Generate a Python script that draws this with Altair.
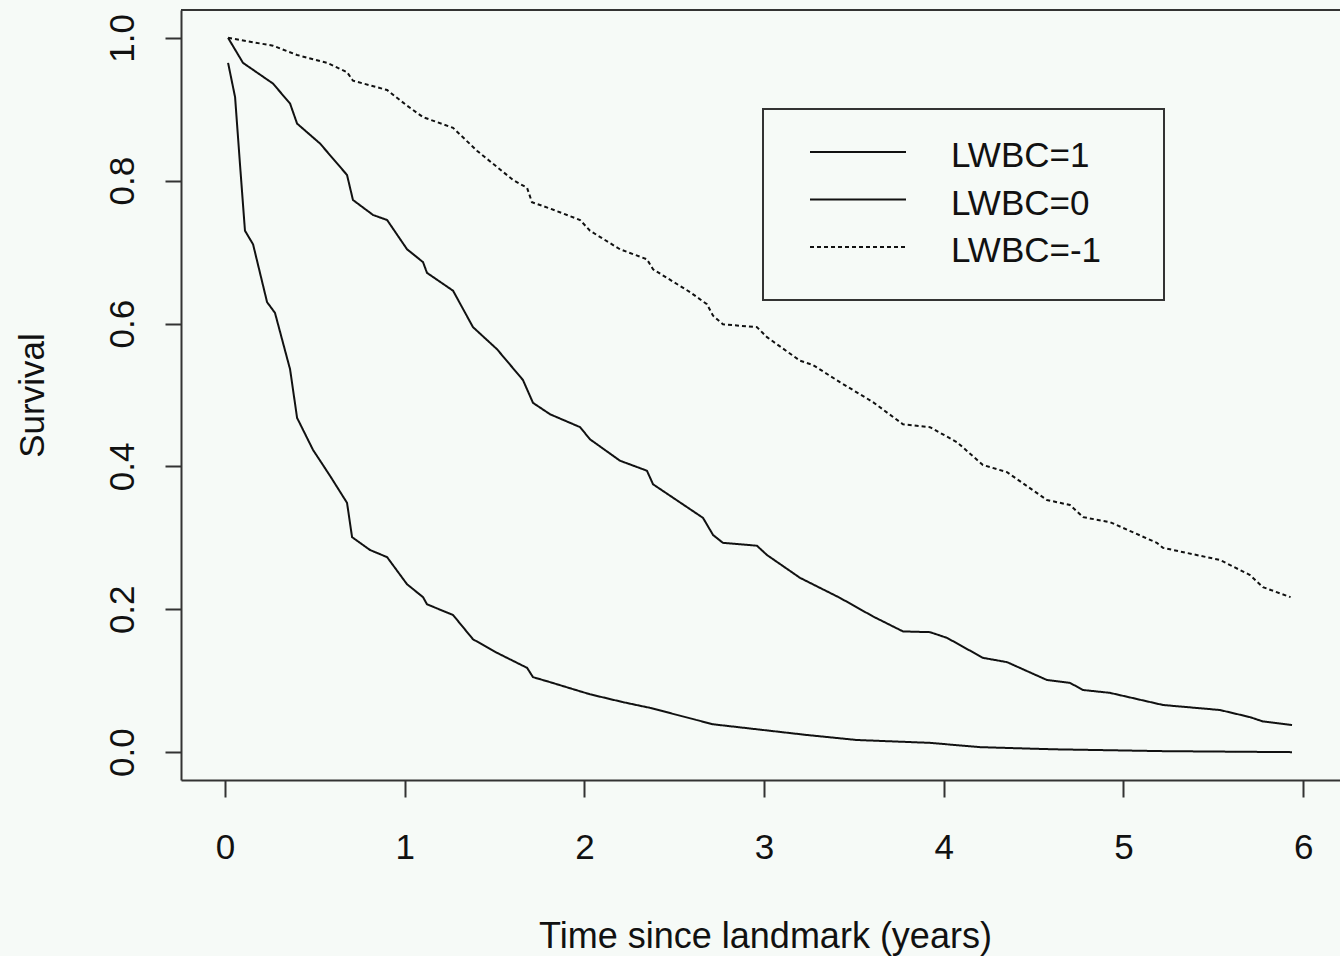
import altair as alt
import pandas as pd

# Kaplan-Meier style survival curves after the landmark time, by LWBC level
GROUPS = ["LWBC=1", "LWBC=0", "LWBC=-1"]

TIME_LWBC_POS = [0.017, 0.056, 0.083, 0.111, 0.156, 0.234, 0.278, 0.362, 0.401, 0.490,
                 0.584, 0.679, 0.707, 0.807, 0.902, 1.013, 1.102, 1.124, 1.269, 1.380,
                 1.514, 1.681, 1.714, 1.809, 2.031, 2.215, 2.365, 2.716, 2.960, 3.239,
                 3.517, 3.923, 4.201, 4.608, 5.220, 5.938]
SURV_LWBC_POS = [0.965, 0.917, 0.824, 0.730, 0.711, 0.630, 0.615, 0.536, 0.468, 0.423,
                 0.387, 0.349, 0.301, 0.283, 0.273, 0.235, 0.217, 0.207, 0.192, 0.158,
                 0.139, 0.118, 0.105, 0.098, 0.081, 0.070, 0.062, 0.039, 0.032, 0.024,
                 0.017, 0.013, 0.007, 0.004, 0.0014, 0.000]

TIME_LWBC_ZERO = [0.017, 0.100, 0.267, 0.362, 0.401, 0.529, 0.679, 0.712, 0.824, 0.902,
                  1.013, 1.102, 1.124, 1.269, 1.380, 1.514, 1.658, 1.714, 1.809, 1.976,
                  2.031, 2.198, 2.348, 2.382, 2.660, 2.716, 2.771, 2.960, 3.016, 3.200,
                  3.422, 3.606, 3.773, 3.923, 4.018, 4.218, 4.352, 4.574, 4.702, 4.775,
                  4.925, 5.220, 5.537, 5.704, 5.776, 5.938]
SURV_LWBC_ZERO = [1.000, 0.965, 0.936, 0.908, 0.880, 0.852, 0.808, 0.773, 0.752, 0.745,
                  0.704, 0.686, 0.671, 0.646, 0.595, 0.564, 0.521, 0.489, 0.473, 0.455,
                  0.438, 0.408, 0.394, 0.375, 0.328, 0.304, 0.293, 0.289, 0.276, 0.244,
                  0.216, 0.190, 0.169, 0.168, 0.160, 0.132, 0.126, 0.101, 0.097, 0.087,
                  0.083, 0.066, 0.059, 0.049, 0.043, 0.038]

TIME_LWBC_NEG = [0.017, 0.267, 0.401, 0.568, 0.679, 0.712, 0.902, 1.013, 1.102, 1.269,
                 1.402, 1.603, 1.681, 1.708, 1.809, 1.976, 2.031, 2.198, 2.348, 2.382,
                 2.588, 2.682, 2.716, 2.771, 2.960, 3.016, 3.200, 3.272, 3.422, 3.606,
                 3.773, 3.923, 4.073, 4.218, 4.352, 4.574, 4.702, 4.775, 4.925, 5.186,
                 5.220, 5.537, 5.704, 5.776, 5.930]
SURV_LWBC_NEG = [1.000, 0.989, 0.976, 0.965, 0.952, 0.940, 0.927, 0.905, 0.889, 0.874,
                 0.842, 0.801, 0.790, 0.770, 0.761, 0.745, 0.730, 0.704, 0.690, 0.676,
                 0.644, 0.627, 0.611, 0.599, 0.595, 0.581, 0.548, 0.542, 0.518, 0.490,
                 0.459, 0.455, 0.434, 0.402, 0.392, 0.353, 0.346, 0.329, 0.322, 0.293,
                 0.286, 0.269, 0.248, 0.231, 0.217]

X_TICKS = [0, 1, 2, 3, 4, 5, 6]
Y_TICKS = [0.0, 0.2, 0.4, 0.6, 0.8, 1.0]

BG = "#f6faf7"
INK = "#111111"
FRAME = "#333333"
FONT = "Liberation Sans"
DASHES = [[1, 0], [1, 0], [4, 3]]

PLOT_W, PLOT_H = 1159, 770

series = [
    (GROUPS[0], TIME_LWBC_POS, SURV_LWBC_POS),
    (GROUPS[1], TIME_LWBC_ZERO, SURV_LWBC_ZERO),
    (GROUPS[2], TIME_LWBC_NEG, SURV_LWBC_NEG),
]
rows = []
for name, times, survs in series:
    for t, s in zip(times, survs):
        rows.append({"group": name, "time": t, "surv": s})
curves_df = pd.DataFrame(rows)

x_scale = alt.Scale(domain=[-0.245, 6.205], nice=False, zero=False)
y_scale = alt.Scale(domain=[-0.039, 1.039], nice=False, zero=False)

x_axis = alt.Axis(
    values=X_TICKS, format="d", grid=False,
    domainColor=FRAME, domainWidth=2, tickColor=FRAME, tickWidth=2, tickSize=17,
    labelFont=FONT, labelFontSize=35, labelColor=INK, labelBaseline="alphabetic",
    labelPadding=61, labelFlush=False, labelOverlap=False,
    title="Time since landmark (years)", titleFont=FONT, titleFontSize=36,
    titleFontWeight="normal", titleColor=INK, titleAlign="center",
    titleBaseline="alphabetic", titleX=584, titleY=167,
)
y_axis = alt.Axis(
    values=Y_TICKS, format=".1f", grid=False,
    domainColor=FRAME, domainWidth=2, tickColor=FRAME, tickWidth=2, tickSize=16,
    labelFont=FONT, labelFontSize=35, labelColor=INK, labelAngle=270,
    labelAlign="center", labelBaseline="alphabetic", labelPadding=32,
    labelFlush=False, labelOverlap=False,
    title="Survival", titleFont=FONT, titleFontSize=35, titleFontWeight="normal",
    titleColor=INK, titleAngle=270, titleAlign="center", titleBaseline="alphabetic",
    titleX=-138, titleY=385,
)

curves = alt.Chart(curves_df).mark_line(strokeWidth=2, color=INK).encode(
    x=alt.X("time:Q", scale=x_scale, axis=x_axis),
    y=alt.Y("surv:Q", scale=y_scale, axis=y_axis),
    strokeDash=alt.StrokeDash(
        "group:N", scale=alt.Scale(domain=GROUPS, range=DASHES), legend=None
    ),
    detail="group:N",
)

# top edge of the plot frame (left and bottom come from the axis domains)
top_edge = alt.Chart(pd.DataFrame({"edge": ["top"]})).mark_rule(
    color=FRAME, strokeWidth=2
).encode(x=alt.value(0), x2=alt.value(PLOT_W), y=alt.value(0))

# boxed legend in the upper right of the panel
legend_box = alt.Chart(pd.DataFrame({"box": ["legend"]})).mark_rect(
    fill=BG, stroke=FRAME, strokeWidth=2
).encode(x=alt.value(582), x2=alt.value(983), y=alt.value(99), y2=alt.value(290))

legend_layers = [legend_box]
ROW_Y = [142, 189.5, 237]
for name, dash, ry in zip(GROUPS, DASHES, ROW_Y):
    entry = pd.DataFrame({"group": [name]})
    legend_layers.append(
        alt.Chart(entry).mark_rule(color=INK, strokeWidth=2, strokeDash=dash).encode(
            x=alt.value(629), x2=alt.value(725), y=alt.value(ry)
        )
    )
    legend_layers.append(
        alt.Chart(entry).mark_text(
            font=FONT, fontSize=35, color=INK, align="left", baseline="alphabetic"
        ).encode(x=alt.value(770), y=alt.value(ry + 15), text="group:N")
    )

chart = alt.layer(curves, top_edge, *legend_layers).properties(
    width=PLOT_W,
    height=PLOT_H,
    background=BG,
    padding={"left": 181, "top": 10, "right": 0, "bottom": 176},
    autosize=alt.AutoSizeParams(type="none"),
).configure_view(stroke=None)

chart.save("out.html", embed_options={"renderer": "svg", "actions": False})
